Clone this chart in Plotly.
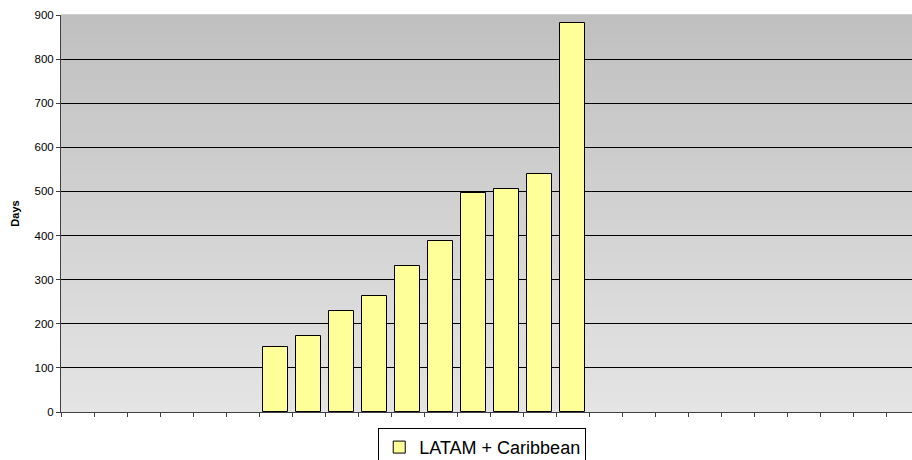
import plotly.graph_objects as go

# Data
n_categories = 26
bar_positions = [6, 7, 8, 9, 10, 11, 12, 13, 14, 15]
days = [148, 173, 229, 262, 332, 388, 496, 505, 540, 883]
series_name = "LATAM + Caribbean"
y_ticks = [0, 100, 200, 300, 400, 500, 600, 700, 800, 900]

fig = go.Figure()
fig.add_trace(go.Bar(
    x=bar_positions, y=days, name=series_name,
    width=0.77,
    marker=dict(color="#ffff99", line=dict(color="#000000", width=1)),
    showlegend=True,
))

# vertical gradient background of the plot area
shapes = []
nb = 80
top = (192, 192, 192)
bot = (228, 228, 228)
for i in range(nb):
    t = i / (nb - 1)
    c = tuple(round(bot[k] + (top[k] - bot[k]) * t) for k in range(3))
    shapes.append(dict(type="rect", xref="x domain", yref="y domain",
                       x0=0, x1=1, y0=i / nb, y1=(i + 1) / nb + 0.002,
                       fillcolor="rgb(%d,%d,%d)" % c, line=dict(width=0),
                       layer="below"))

fig.update_layout(
    width=912, height=460,
    margin=dict(l=61, r=0, t=15, b=48, autoexpand=False),
    paper_bgcolor="white", plot_bgcolor="rgba(0,0,0,0)",
    shapes=shapes,
    font=dict(family="Liberation Sans, Arial", color="#000000"),
    showlegend=True,
    legend=dict(x=0.495, xanchor="center", y=-0.040, yanchor="top",
                bordercolor="#000000", borderwidth=1, bgcolor="white",
                itemwidth=30,
                font=dict(size=18, family="Liberation Sans, Arial")),
    bargap=0,
)
fig.update_xaxes(
    range=[-0.5, -0.5 + 851 / 33], tickmode="linear", tick0=-0.5, dtick=1,
    showticklabels=False, ticks="outside", ticklen=4, tickcolor="#404040",
    showgrid=False, zeroline=False, showline=True, linecolor="#404040", linewidth=1,
)
fig.update_yaxes(
    range=[0, 900], tickvals=y_ticks, ticks="outside", ticklen=4, tickcolor="#404040",
    tickfont=dict(size=11.5), showgrid=True, gridcolor="#000000", gridwidth=1,
    zeroline=False, showline=True, linecolor="#404040", linewidth=1,
    title=dict(text="<b>Days</b>", font=dict(size=11), standoff=12),
)
fig.write_html("out.html", config={"displayModeBar": False},
               post_script="document.body.style.margin='0';document.body.style.overflow='hidden';")
